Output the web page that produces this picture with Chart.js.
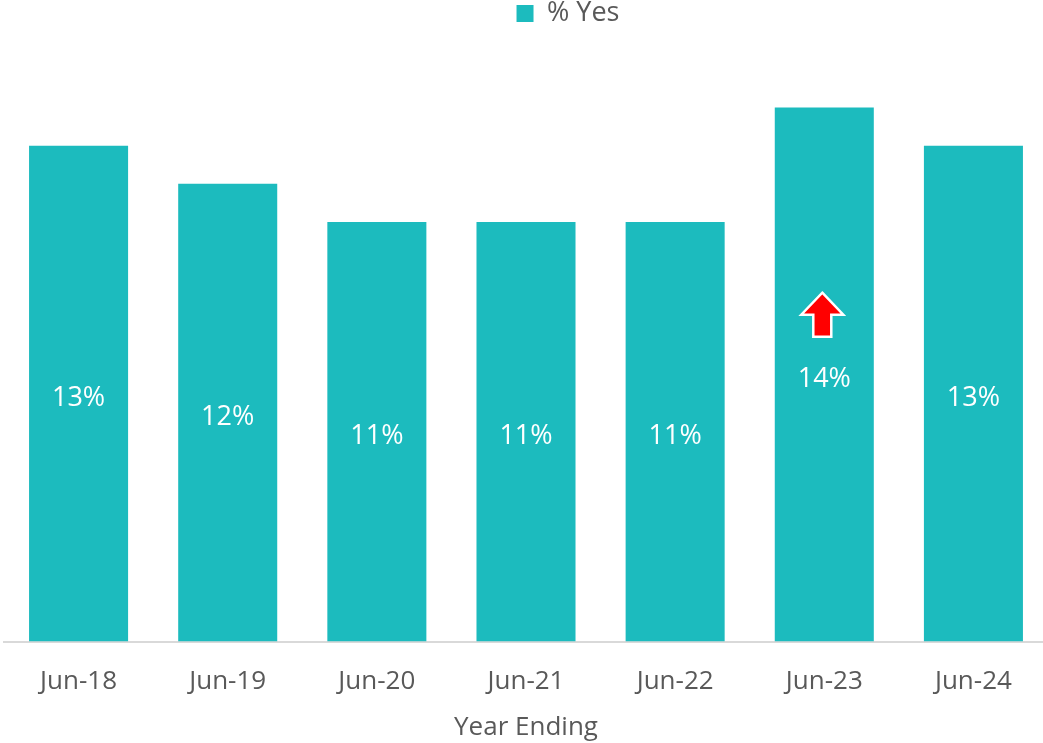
<!DOCTYPE html>
<html>
<head>
<meta charset="utf-8">
<script src="https://cdn.jsdelivr.net/npm/chart.js@4.4.1/dist/chart.umd.min.js"></script>
<style>
  html, body { margin: 0; padding: 0; background: #fff; overflow: hidden; }
  #wrap { width: 1048px; height: 743px; position: relative; }
</style>
</head>
<body>
<div id="wrap"><canvas id="chart"></canvas></div>
<script>
const categories = ['Jun-18', 'Jun-19', 'Jun-20', 'Jun-21', 'Jun-22', 'Jun-23', 'Jun-24'];
const pctYes = [13, 12, 11, 11, 11, 14, 13];
const seriesName = '% Yes';
const axisTitle = 'Year Ending';
// significant increase marker: category index and value where the arrow sits
const arrowIndex = 5;
const arrowValue = 8.57;

const FONT = '"Open Sans", Carlito, Calibri, sans-serif';
const TEAL = '#1cbbbe';
const GREY = '#595959';

// white % labels in the middle of each bar
const barLabels = {
  id: 'barLabels',
  afterDatasetsDraw(chart) {
    const { ctx } = chart;
    const meta = chart.getDatasetMeta(0);
    ctx.save();
    ctx.fillStyle = '#fff';
    ctx.font = '27px ' + FONT;
    ctx.textAlign = 'center';
    ctx.textBaseline = 'middle';
    meta.data.forEach((bar, i) => {
      const y = (bar.y + bar.base) / 2 + 5;
      ctx.fillText(pctYes[i] + '%', bar.x, y);
    });
    ctx.restore();
  }
};

// red up arrow on the flagged bar
const upArrow = {
  id: 'upArrow',
  afterDatasetsDraw(chart) {
    const { ctx, scales } = chart;
    const cx = scales.x.getPixelForValue(arrowIndex) - 2;
    const cy = scales.y.getPixelForValue(arrowValue);
    ctx.save();
    ctx.beginPath();
    ctx.moveTo(cx, cy - 22);
    ctx.lineTo(cx + 21, cy);
    ctx.lineTo(cx + 9, cy);
    ctx.lineTo(cx + 9, cy + 22);
    ctx.lineTo(cx - 9, cy + 22);
    ctx.lineTo(cx - 9, cy);
    ctx.lineTo(cx - 21, cy);
    ctx.closePath();
    ctx.fillStyle = '#ff0000';
    ctx.fill();
    ctx.strokeStyle = '#fff';
    ctx.lineWidth = 2.5;
    ctx.lineJoin = 'miter';
    ctx.stroke();
    ctx.restore();
  }
};

// the legend sits a little right of centre in the original
const legendShift = {
  id: 'legendShift',
  afterLayout(chart) {
    if (chart.legend) {
      chart.legend.left += 42;
      chart.legend.right += 42;
    }
  }
};

new Chart(document.getElementById('chart'), {
  type: 'bar',
  data: {
    labels: categories,
    datasets: [{
      label: seriesName,
      data: pctYes,
      backgroundColor: TEAL,
      borderWidth: 0,
      barPercentage: 0.664,
      categoryPercentage: 1
    }]
  },
  options: {
    responsive: true,
    maintainAspectRatio: false,
    animation: false,
    layout: { padding: { left: 4, right: 0, top: 0, bottom: 0 } },
    plugins: {
      tooltip: { enabled: false },
      legend: {
        position: 'top',
        labels: {
          color: GREY,
          font: { family: FONT, size: 27 },
          boxWidth: 17,
          boxHeight: 17,
          padding: 0
        }
      }
    },
    scales: {
      x: {
        grid: { display: false, drawTicks: false },
        border: { display: true, color: '#d9d9d9', width: 2 },
        ticks: { color: GREY, font: { family: FONT, size: 26 }, padding: 24 },
        title: {
          display: true,
          text: axisTitle,
          color: GREY,
          font: { family: FONT, size: 26 },
          padding: { top: -9, bottom: 0 }
        }
      },
      y: {
        display: false,
        min: 0,
        max: 15.85
      }
    }
  },
  plugins: [barLabels, upArrow, legendShift]
});
</script>
</body>
</html>
